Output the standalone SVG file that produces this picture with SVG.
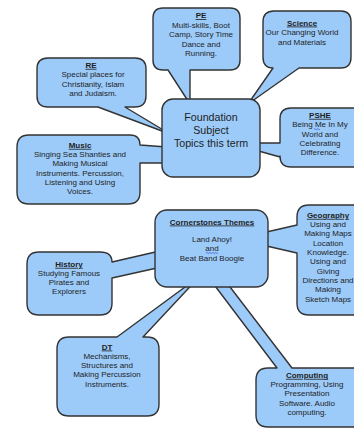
<svg xmlns="http://www.w3.org/2000/svg" width="354" height="428" viewBox="0 0 354 428">
<style>
.c{fill:#9ccbfa;stroke:#333333;stroke-width:1.4;stroke-linejoin:round}
text{font-family:"Liberation Sans",Arial,sans-serif;font-size:8px;fill:#1e1e1e;text-anchor:middle}
.t{font-weight:bold;text-decoration:underline}
.big{font-size:10.7px}
.sq{fill:none;stroke:#3050d0;stroke-width:0.7}
</style>
<rect width="354" height="428" fill="#ffffff"/>
<line x1="166" y1="209.5" x2="257" y2="209.5" stroke="#dcdcdc" stroke-width="1"/>
<g id="pe">
<path class="c" d="M163,8 H230 Q240,8 240,18 V60 Q240,70 230,70 H190 L190,104 L168,70 H163 Q153,70 153,60 V18 Q153,8 163,8 Z"/>
<text class="t" x="201" y="18">PE</text>
<text x="201" y="27.6">Multi-skills, Boot</text>
<text x="201" y="37.2">Camp, Story Time</text>
<text x="201" y="46.8">Dance and</text>
<text x="201" y="56.4">Running.</text>
</g>
<g id="science">
<path class="c" d="M274,11 H341 Q351,11 351,22 V57 Q351,68 341,68 H299 L248,104 L273,68 Q263,68 263,57 V22 Q263,11 274,11 Z"/>
<text class="t" x="302" y="25.5">Science</text>
<text x="302" y="35">Our Changing World</text>
<text x="302" y="44.5">and Materials</text>
</g>
<g id="pshe">
<path class="c" d="M291,108 H370 V167 H291 Q280,167 280,156 V157 L230,143 L280,143 V119 Q280,108 291,108 Z"/>
<text class="t" x="320" y="117.8">PSHE</text>
<text x="320" y="127.2">Being Me In My</text>
<text x="320" y="136.6">World and</text>
<text x="320" y="146">Celebrating</text>
<text x="320" y="155.4">Difference.</text>
<path class="sq" d="M314,129.2 q0.75,-1 1.5,0 t1.5,0 t1.5,0 t1.5,0"/>
</g>
<g id="re">
<path class="c" d="M48,58 H135 Q146,58 146,69 V96 Q146,107 135,107 H125 L170,134 L98,107 H48 Q37,107 37,96 V69 Q37,58 48,58 Z"/>
<text class="t" x="91" y="67.8">RE</text>
<text x="93" y="77.2">Special places for</text>
<text x="93" y="86.6">Christianity, Islam</text>
<text x="93" y="96">and Judaism.</text>
</g>
<g id="music">
<path class="c" d="M29,135 H130 Q140,135 140,145 L180,148 L180,163 L140,163 V192 Q140,204 128,204 H29 Q17,204 17,192 V147 Q17,135 29,135 Z"/>
<text class="t" x="80" y="147.8">Music</text>
<text x="80" y="157">Singing Sea Shanties and</text>
<text x="80" y="166.2">Making Musical</text>
<text x="80" y="175.5">Instruments. Percussion,</text>
<text x="80" y="184.8">Listening and Using</text>
<text x="80" y="194.2">Voices.</text>
</g>
<g id="history">
<path class="c" d="M39,252 H100 Q112,252 112,262 L175,247.5 L175,264 L112,278 V303 Q112,315 100,315 H39 Q27,315 27,303 V264 Q27,252 39,252 Z"/>
<text class="t" x="69" y="266.8">History</text>
<text x="69" y="275.5">Studying Famous</text>
<text x="69" y="284.8">Pirates and</text>
<text x="69" y="294">Explorers</text>
</g>
<g id="geography">
<path class="c" d="M309,205 H370 V315 H309 Q297,315 297,303 V253 L236,239 L297,225 V217 Q297,205 309,205 Z"/>
<text class="t" x="328" y="217.8">Geography</text>
<text x="328" y="227.1">Using and</text>
<text x="328" y="236.4">Making Maps</text>
<text x="328" y="245.7">Location</text>
<text x="328" y="255">Knowledge.</text>
<text x="328" y="264.3">Using and</text>
<text x="328" y="273.6">Giving</text>
<text x="328" y="282.9">Directions and</text>
<text x="328" y="292.2">Making</text>
<text x="328" y="301.5">Sketch Maps</text>
</g>
<g id="dt">
<path class="c" d="M69,337 H117 L200,276 L143,337 H147 Q159,337 159,349 V404 Q159,416 147,416 H69 Q57,416 57,404 V349 Q57,337 69,337 Z"/>
<text class="t" x="107" y="349.5">DT</text>
<text x="107" y="358.7">Mechanisms,</text>
<text x="107" y="368">Structures and</text>
<text x="107" y="377.3">Making Percussion</text>
<text x="107" y="386.6">Instruments.</text>
</g>
<g id="computing">
<path class="c" d="M268,368 H277 L200,266 L214,266 L292,368 H370 V427 H268 Q256,427 256,415 V380 Q256,368 268,368 Z"/>
<text class="t" x="307" y="377.8">Computing</text>
<text x="307" y="387">Programming, Using</text>
<text x="307" y="396.3">Presentation</text>
<text x="307" y="405.6">Software. Audio</text>
<text x="307" y="414.9">computing.</text>
</g>
<g id="foundation">
<rect class="c" x="162" y="99" width="98" height="78" rx="11"/>
<text class="big" x="211" y="121">Foundation</text>
<text class="big" x="211" y="134">Subject</text>
<text class="big" x="211" y="147">Topics this term</text>
</g>
<g id="cornerstones">
<rect class="c" x="155" y="210" width="113" height="77" rx="12"/>
<text class="t" x="212" y="224.5">Cornerstones Themes</text>
<text x="212" y="241.5">Land Ahoy!</text>
<text x="212" y="251">and</text>
<text x="212" y="260.5">Beat Band Boogie</text>
<path class="sq" d="M206,253 q0.75,-1 1.5,0 t1.5,0 t1.5,0 t1.5,0 t1.5,0 t1.5,0 t1.5,0 t1.5,0"/>
</g>
</svg>
